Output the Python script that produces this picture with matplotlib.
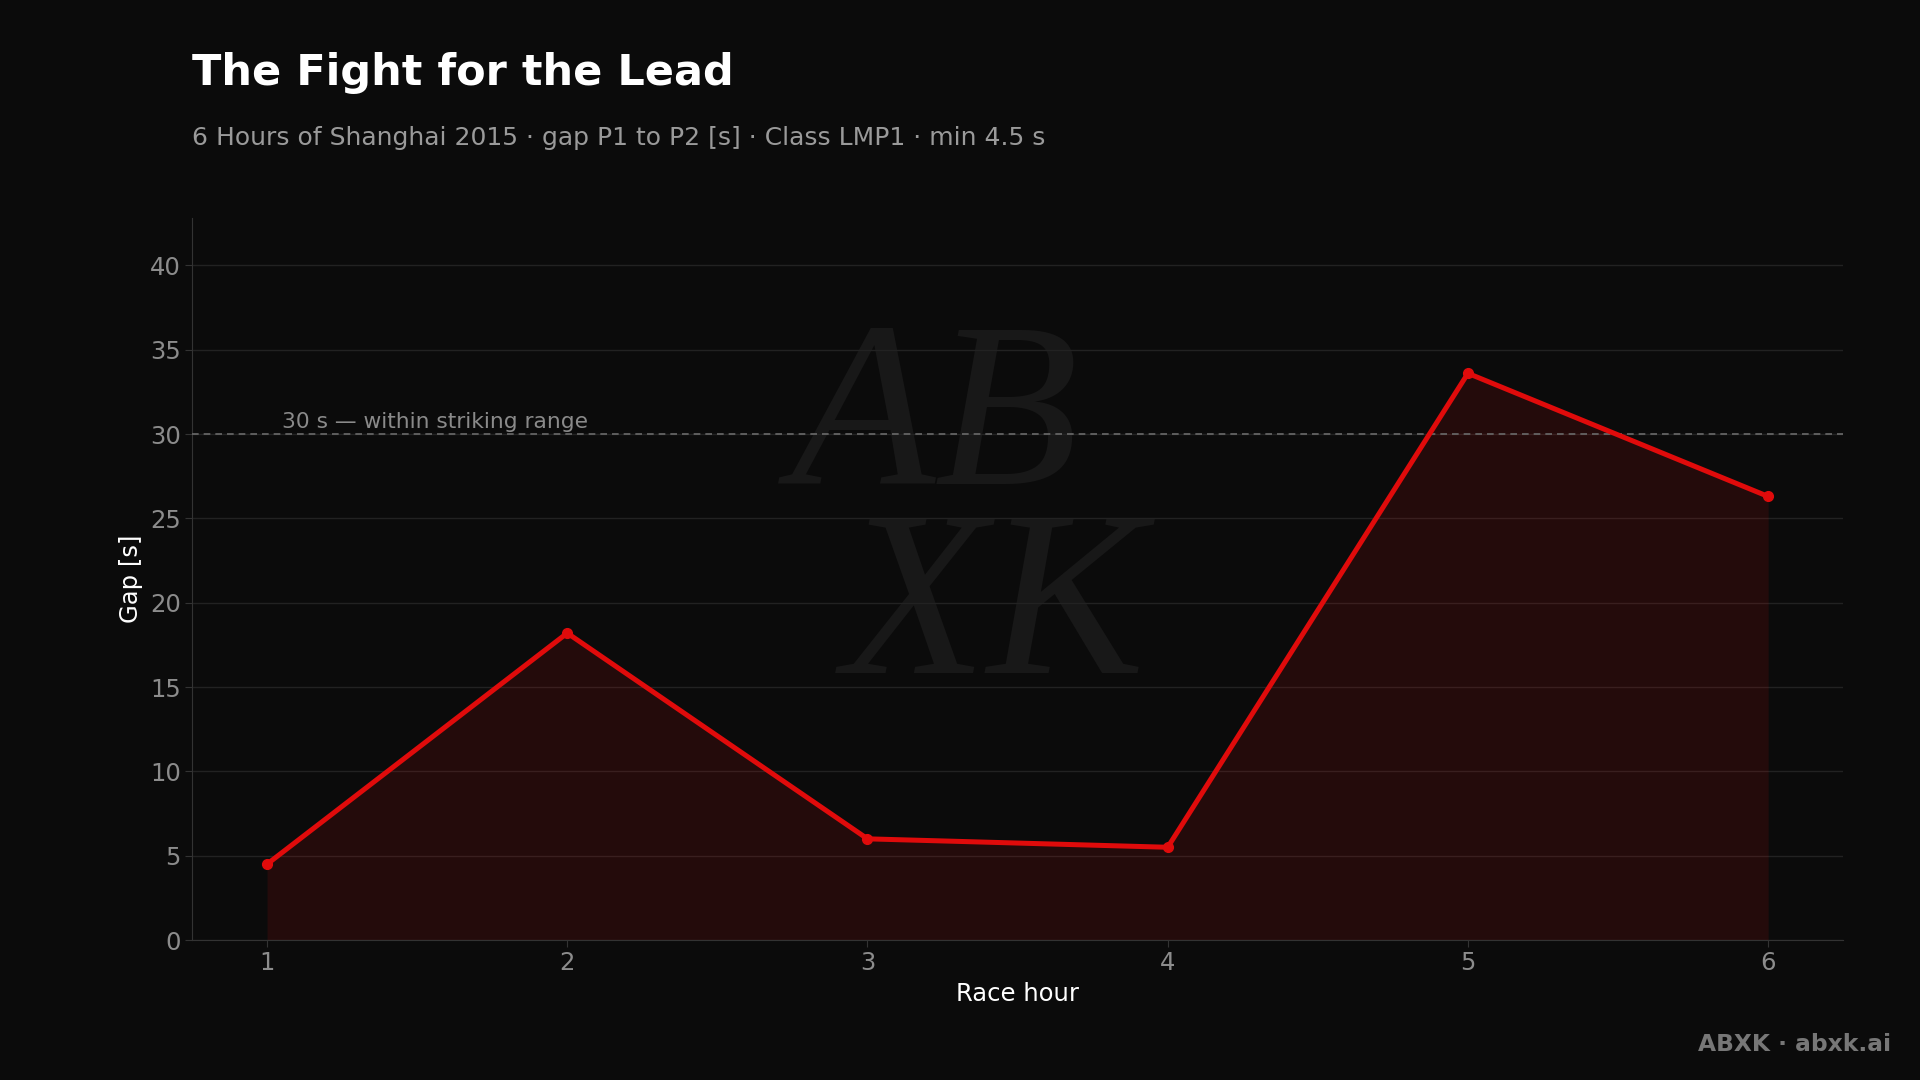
import numpy as np
import matplotlib
matplotlib.use("Agg")
import matplotlib.pyplot as plt

# data: gap P1 to P2 per race hour
hours = [1, 2, 3, 4, 5, 6]
gap = [4.5, 18.2, 6.0, 5.5, 33.6, 26.3]
threshold = 30
yticks = [0, 5, 10, 15, 20, 25, 30, 35, 40]

bg = "#0b0b0b"
red = "#e00b0b"

plt.rcParams["font.family"] = ["DejaVu Sans"]
fig = plt.figure(figsize=(19.2, 10.8), dpi=100, facecolor=bg)
ax = fig.add_axes([0.1, 0.1296, 0.86, 0.6684], facecolor=bg)

# watermark
ax.text(0.45, 0.58, "AB\n  XK", transform=ax.transAxes, ha="center", va="center",
        fontsize=170, style="italic", family="Liberation Serif", color="#181818",
        linespacing=0.85, zorder=0)

ax.fill_between(hours, gap, 0, color=red, alpha=0.12, lw=0, zorder=2)
ax.plot(hours, gap, color=red, lw=3.6, marker="o", ms=7, zorder=4)

ax.axhline(threshold, color="#6a6a6a", lw=1.2, ls=(0, (4, 3)), zorder=3)
ax.text(1.05, threshold + 0.1, "30 s \u2014 within striking range", color="#8a8a8a",
        fontsize=15.7, ha="left", va="bottom", zorder=3)

ax.set_xlim(0.75, 6.25)
ax.set_ylim(0, 42.8)
ax.set_xticks(hours)
ax.set_yticks(yticks)
ax.grid(axis="y", color="#222222", lw=1)
ax.set_axisbelow(True)
for s in ["top", "right"]:
    ax.spines[s].set_visible(False)
for s in ["left", "bottom"]:
    ax.spines[s].set_color("#333333")
ax.tick_params(colors="#333333", labelcolor="#8c8c8c", labelsize=17.5, length=5, pad=3)
ax.set_xlabel("Race hour", color="white", fontsize=17.5, labelpad=5)
ax.set_ylabel("Gap [s]", color="white", fontsize=17.5, labelpad=5)

fig.text(0.1, 0.932, "The Fight for the Lead", color="white", fontsize=31,
         fontweight="bold", ha="left", va="center")
fig.text(0.1, 0.872, "6 Hours of Shanghai 2015 \u00b7 gap P1 to P2 [s] \u00b7 Class LMP1 \u00b7 min 4.5 s",
         color="#9a9a9a", fontsize=18, ha="left", va="center")
fig.text(0.985, 0.033, "ABXK \u00b7 abxk.ai", color="#777777", fontsize=16.8,
         fontweight="bold", ha="right", va="center")

fig.savefig("out.png", dpi=100, facecolor=bg)
